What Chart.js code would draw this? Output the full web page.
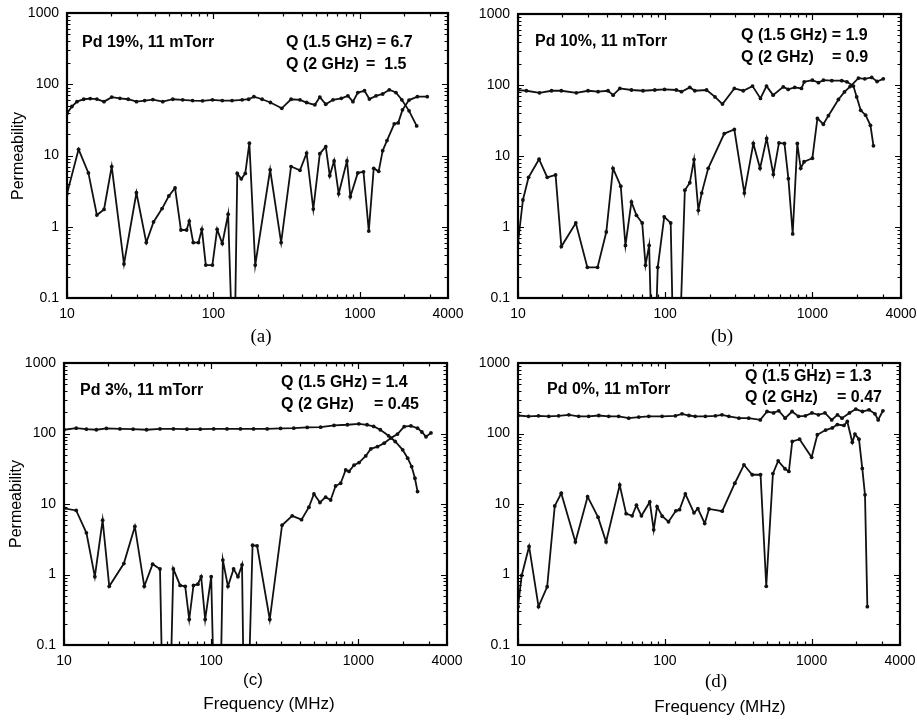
<!DOCTYPE html>
<html lang="en">
<head>
    <meta charset="UTF-8">
    <title>Permeability spectra</title>
    <style>
        body { margin: 0; background: #fff; }
        #page { position: relative; width: 917px; height: 722px; overflow: hidden; font-family: "Liberation Sans", Arial, sans-serif; color: #000; }
        canvas { position: absolute; }
        .note { position: absolute; font-weight: bold; font-size: 16px; white-space: pre; line-height: 1; transform: translateY(-50%); }
        .cap { position: absolute; transform: translate(-50%, -50%); white-space: pre; }
        .serif { font-family: "Liberation Serif", "Times New Roman", serif; font-size: 19px; }
        .sans { font-size: 17px; }
        .ytitle { position: absolute; font-size: 16px; transform: translate(-50%, -50%) rotate(-90deg); white-space: pre; }
    </style>
</head>
<body>
<div id="page">
    <canvas id="chartA" width="470" height="330" style="left:0px;top:0px"></canvas>
    <canvas id="chartB" width="457" height="330" style="left:460px;top:0px"></canvas>
    <canvas id="chartC" width="470" height="330" style="left:0px;top:350px"></canvas>
    <canvas id="chartD" width="457" height="330" style="left:460px;top:350px"></canvas>

    <div class="ytitle" style="left:18px;top:156px">Permeability</div>
    <div class="ytitle" style="left:16px;top:504px">Permeability</div>

    <div class="note" style="left:82px;top:42px">Pd 19%, 11 mTorr</div>
    <div class="note" style="left:286px;top:42px">Q (1.5 GHz) = 6.7</div>
    <div class="note" style="left:286px;top:64px">Q (2 GHz)</div>
    <div class="note" style="left:366px;top:64px">=  1.5</div>

    <div class="note" style="left:535px;top:41px">Pd 10%, 11 mTorr</div>
    <div class="note" style="left:741px;top:35px">Q (1.5 GHz) = 1.9</div>
    <div class="note" style="left:741px;top:57px">Q (2 GHz)</div>
    <div class="note" style="left:832px;top:57px">= 0.9</div>

    <div class="note" style="left:80px;top:390px">Pd 3%, 11 mTorr</div>
    <div class="note" style="left:281px;top:382px">Q (1.5 GHz) = 1.4</div>
    <div class="note" style="left:281px;top:404px">Q (2 GHz)</div>
    <div class="note" style="left:374px;top:404px">= 0.45</div>

    <div class="note" style="left:547px;top:389px">Pd 0%, 11 mTorr</div>
    <div class="note" style="left:745px;top:376px">Q (1.5 GHz) = 1.3</div>
    <div class="note" style="left:745px;top:397px">Q (2 GHz)</div>
    <div class="note" style="left:837px;top:397px">= 0.47</div>

    <div class="cap serif" style="left:261px;top:336px">(a)</div>
    <div class="cap serif" style="left:722px;top:336px">(b)</div>
    <div class="cap sans" style="left:253px;top:680px">(c)</div>
    <div class="cap serif" style="left:716px;top:681px">(d)</div>
    <div class="cap sans" style="left:269px;top:704px">Frequency (MHz)</div>
    <div class="cap sans" style="left:720px;top:707px">Frequency (MHz)</div>
</div>

<script src="https://cdn.jsdelivr.net/npm/chart.js"></script>
<script>
    // tick labels
    const xTicks = [10, 100, 1000, 4000];
    const yTicks = [0.1, 1, 10, 100, 1000];

    // (a) Pd 19%
    const aF1 = [10, 10.8, 11.7, 13, 14.4, 16, 17.9, 20.2, 23, 26.2, 29.8, 33.9, 38.6, 45.1, 52.8, 61.7, 72.1, 84.3, 98.5, 115, 134, 157, 174, 189, 215, 245, 293, 339, 390, 433, 493, 533, 585, 656, 747, 829, 897, 969, 1076, 1162, 1290, 1432, 1589, 1763, 1935, 2168, 2443];
    const aMu1 = [39, 48.7, 57, 61.6, 63, 62, 57, 66, 63.5, 61.6, 57, 59, 61, 57, 61.6, 60.5, 59, 58.5, 60.5, 59, 59, 60.5, 61.6, 67, 61.6, 55.4, 46, 61.6, 60.5, 55.4, 51.4, 66, 52.4, 60.5, 63.5, 68.7, 57, 76.5, 81, 62, 68.7, 73, 83.6, 76.5, 60.5, 42.3, 26];
    const aF2 = [10, 12, 14, 16, 17.9, 20.2, 24.5, 29.8, 34.8, 39, 44.6, 49.6, 54.7, 60, 65.6, 68.4, 72.8, 79, 83.4, 88.7, 98.4, 106, 115, 126, 134, 140, 145.5, 155, 165, 176, 193, 244, 290, 339, 390, 433, 481, 533, 585, 623, 667, 717, 817, 861, 968, 1059, 1151, 1244, 1345, 1432, 1532, 1718, 1828, 1955, 2168, 2470, 2886];
    const aMu2 = [2.9, 12.2, 5.7, 1.46, 1.75, 7, 0.3, 3, 0.6, 1.17, 1.8, 2.7, 3.5, 0.9, 0.9, 1.2, 0.6, 0.6, 0.92, 0.29, 0.29, 0.92, 0.58, 1.5, 0.03, 0.03, 5.6, 4.7, 5.6, 14.9, 0.29, 6.3, 0.6, 7, 6.2, 10.8, 1.77, 10.6, 13.3, 5.2, 8.4, 2.9, 8.4, 2.64, 5.7, 5.9, 0.87, 6.6, 6, 11.7, 16.2, 27.8, 28.7, 43.7, 60, 67, 67];

    // (b) Pd 10%
    const bF1 = [10, 11.4, 14, 16.9, 19.7, 24.9, 29.9, 35, 40.9, 44.3, 49.2, 59, 70.7, 85, 99, 119, 129, 147, 159, 191, 218, 245, 295, 339, 392, 444, 488, 541, 634, 685, 759, 843, 880, 1000, 1100, 1188, 1355, 1584, 1716, 1900, 2000, 2130, 2300, 2480, 2600];
    const bMu1 = [84.7, 83, 77.6, 83, 83, 77.6, 83, 80.5, 83, 72, 89.5, 85, 83, 85, 86.7, 85, 80.5, 92.5, 83, 85, 68, 53.8, 89.5, 83, 96.5, 64.6, 96.5, 72, 94, 86.7, 92.5, 89.5, 111, 117, 108, 117, 115, 115, 111, 96.5, 68, 44, 37.6, 27, 13.9];
    const bF2 = [10, 10.8, 11.8, 13.9, 15.8, 18, 19.7, 24.7, 29.6, 34.7, 39.8, 44.2, 49.9, 53.7, 59, 63.8, 69.8, 73.5, 77.8, 80.7, 86, 89, 98.5, 109, 113, 126, 136, 147, 157, 168, 177, 196, 252, 295, 345, 397, 441, 489, 543, 593, 646, 687, 735, 790, 833, 878, 1000, 1082, 1188, 1285, 1503, 1652, 1804, 2056, 2270, 2530, 2750, 3030];
    const bMu2 = [0.6, 2.4, 5, 9, 5, 5.4, 0.53, 1.14, 0.27, 0.27, 0.85, 6.7, 3.75, 0.55, 2.25, 1.46, 1.14, 0.29, 0.55, 0.03, 0.03, 0.27, 1.39, 1.14, 0.03, 0.03, 3.3, 4.2, 8.9, 1.72, 3, 6.7, 20.7, 23.6, 3, 15, 6.7, 17.7, 5.5, 15.3, 15, 4.8, 0.8, 15, 6.7, 8.3, 9.3, 33.8, 28, 37, 62.5, 80, 95, 125, 122, 128, 112, 122];

    // (c) Pd 3%
    const cF1 = [10, 12.1, 14.2, 16.6, 19.4, 24, 29.5, 36.4, 44.9, 55.4, 68.4, 84.3, 104, 128, 158, 194, 240, 296, 364, 449, 554, 683, 842, 1008, 1145, 1270, 1409, 1604, 1779, 2000, 2162, 2301, 2422, 2524];
    const cMu1 = [113, 119, 115, 113, 118, 116, 115, 113, 116, 116, 115, 115, 116, 116, 116, 116, 116, 118, 119, 122, 123, 130, 133, 137, 133, 126, 113, 92.7, 77, 58.6, 44.6, 34, 23.2, 15];
    const cF2 = [10, 12.1, 14.2, 16.2, 18.3, 20.3, 25.5, 30.3, 35.1, 40, 44.9, 46.5, 53, 55.3, 61.5, 66.6, 70.9, 75.8, 81.2, 85.5, 91, 100, 104, 116, 120, 130, 142, 152, 162, 166, 180, 191, 205, 250, 303, 355, 411, 461, 499, 548, 599, 648, 700, 758, 820, 864, 934, 1011, 1122, 1214, 1348, 1497, 1661, 1844, 2047, 2275, 2524, 2700, 2880, 3112];
    const cMu2 = [8.7, 8.1, 3.9, 0.93, 5.9, 0.68, 1.43, 4.8, 0.68, 1.4, 1.2, 0.03, 0.03, 1.2, 0.7, 0.68, 0.23, 0.7, 0.73, 0.93, 0.23, 0.93, 0.03, 0.03, 1.6, 0.68, 1.2, 0.93, 1.37, 0.03, 0.03, 2.6, 2.55, 0.23, 5, 6.8, 6, 9, 13.9, 10.5, 12.5, 11.4, 18, 19.7, 30.4, 29, 35.5, 38.7, 48, 60.5, 65, 73, 86, 98, 125, 128, 119, 105, 90, 102];

    // (d) Pd 0%
    const dF1 = [10, 11.8, 13.8, 16.2, 18.9, 22.2, 25.9, 30.3, 35.5, 41.5, 48.5, 56.8, 66.5, 77.8, 95.8, 118, 131, 146, 161, 189, 221, 245, 273, 320, 373, 447, 497, 551, 597, 660, 736, 815, 907, 1005, 1113, 1233, 1370, 1500, 1610, 1810, 2000, 2220, 2460, 2700, 2840, 3060];
    const dMu1 = [180, 175, 178, 175, 178, 184, 175, 175, 180, 175, 175, 165, 171, 175, 175, 178, 190, 180, 175, 175, 178, 184, 175, 165, 165, 156, 205, 196, 210, 165, 205, 175, 178, 196, 184, 196, 156, 184, 165, 196, 222, 205, 217, 190, 156, 210];
    const dF2 = [10, 10.6, 11.9, 13.8, 15.8, 17.8, 19.7, 24.6, 29.8, 35.1, 39.8, 49.3, 54.5, 59.9, 64.1, 69.3, 79, 84, 88.6, 96, 106, 119, 126, 138, 158, 168, 187, 200, 246, 300, 346, 394, 449, 491, 545, 592, 658, 700, 738, 828, 1000, 1094, 1245, 1383, 1497, 1661, 1750, 1893, 1973, 2102, 2214, 2310, 2397];
    const dMu2 = [0.35, 0.97, 2.5, 0.35, 0.67, 9.4, 14.2, 2.9, 12.7, 6.5, 2.9, 18.6, 7.3, 6.8, 9.6, 6.8, 10.7, 4.3, 9.2, 6.7, 5.6, 8, 8.3, 13.9, 7.5, 8.6, 5.3, 8.5, 7.9, 19.7, 36, 26, 26, 0.68, 27, 40.9, 31.6, 29, 77, 83, 46, 96, 112, 120, 134, 130, 148, 75, 98, 83, 32, 13.5, 0.35];

    Chart.defaults.font.family = '"Liberation Sans", Arial, sans-serif';
    Chart.defaults.color = '#000';

    // inward tick marks on all four sides plus the heavy frame
    const frameTicks = {
        id: 'frameTicks',
        afterDraw(chart) {
            const { ctx, chartArea: a, scales: { x, y } } = chart;
            ctx.save();
            ctx.strokeStyle = '#000';
            ctx.lineWidth = 1.2;
            ctx.beginPath();
            for (let d = 0.1; d < 1000; d *= 10) {
                for (let m = 1; m < 10; m++) {
                    const p = Math.round(y.getPixelForValue(d * m)) + 0.5;
                    const len = m === 1 ? 6 : 3.5;
                    ctx.moveTo(a.left, p); ctx.lineTo(a.left + len, p);
                    ctx.moveTo(a.right, p); ctx.lineTo(a.right - len, p);
                }
            }
            for (let d = 10; d <= 1000; d *= 10) {
                for (let m = 1; m < 10; m++) {
                    const v = d * m;
                    if (v > 4000) break;
                    const p = Math.round(x.getPixelForValue(v)) + 0.5;
                    const len = m === 1 ? 6 : 3.5;
                    ctx.moveTo(p, a.bottom); ctx.lineTo(p, a.bottom - len);
                    ctx.moveTo(p, a.top); ctx.lineTo(p, a.top + len);
                }
            }
            ctx.stroke();
            ctx.lineWidth = 2.2;
            ctx.strokeRect(a.left, a.top, a.right - a.left, a.bottom - a.top);
            ctx.restore();
        }
    };

    function series(f, mu) {
        return {
            data: f.map((v, i) => ({ x: v, y: mu[i] })),
            borderColor: '#111',
            backgroundColor: '#111',
            borderWidth: 1.8,
            pointRadius: 1.9,
            pointBorderWidth: 0,
            pointBackgroundColor: '#111',
            tension: 0
        };
    }

    function makePanel(id, area, f1, mu1, f2, mu2) {
        const canvas = document.getElementById(id);
        const w = canvas.width, h = canvas.height;
        return new Chart(canvas, {
            type: 'line',
            data: { datasets: [series(f1, mu1), series(f2, mu2)] },
            options: {
                responsive: false,
                animation: false,
                layout: { autoPadding: false, padding: { left: 0, top: area.top, right: w - area.right, bottom: 0 } },
                plugins: { legend: { display: false }, tooltip: { enabled: false } },
                scales: {
                    x: {
                        type: 'logarithmic',
                        min: 10,
                        max: 4000,
                        grid: { display: false, drawTicks: false },
                        border: { display: false },
                        afterBuildTicks: s => { s.ticks = xTicks.map(v => ({ value: v })); },
                        afterFit: s => { s.height = h - area.bottom; s.paddingLeft = 0; s.paddingRight = 0; },
                        ticks: { callback: v => String(v), autoSkip: false, maxRotation: 0, padding: 8, font: { size: 14 } }
                    },
                    y: {
                        type: 'logarithmic',
                        min: 0.1,
                        max: 1000,
                        grid: { display: false, drawTicks: false },
                        border: { display: false },
                        afterBuildTicks: s => { s.ticks = yTicks.map(v => ({ value: v })); },
                        afterFit: s => { s.width = area.left; s.paddingTop = 0; s.paddingBottom = 0; },
                        ticks: { callback: v => String(v), autoSkip: false, padding: 8, font: { size: 14 } }
                    }
                }
            },
            plugins: [frameTicks]
        });
    }

    makePanel('chartA', { left: 67, top: 13, right: 448, bottom: 298 }, aF1, aMu1, aF2, aMu2);
    makePanel('chartB', { left: 58, top: 14, right: 441, bottom: 298 }, bF1, bMu1, bF2, bMu2);
    makePanel('chartC', { left: 64, top: 13, right: 447, bottom: 295 }, cF1, cMu1, cF2, cMu2);
    makePanel('chartD', { left: 58, top: 13, right: 440, bottom: 295 }, dF1, dMu1, dF2, dMu2);
</script>
</body>
</html>
